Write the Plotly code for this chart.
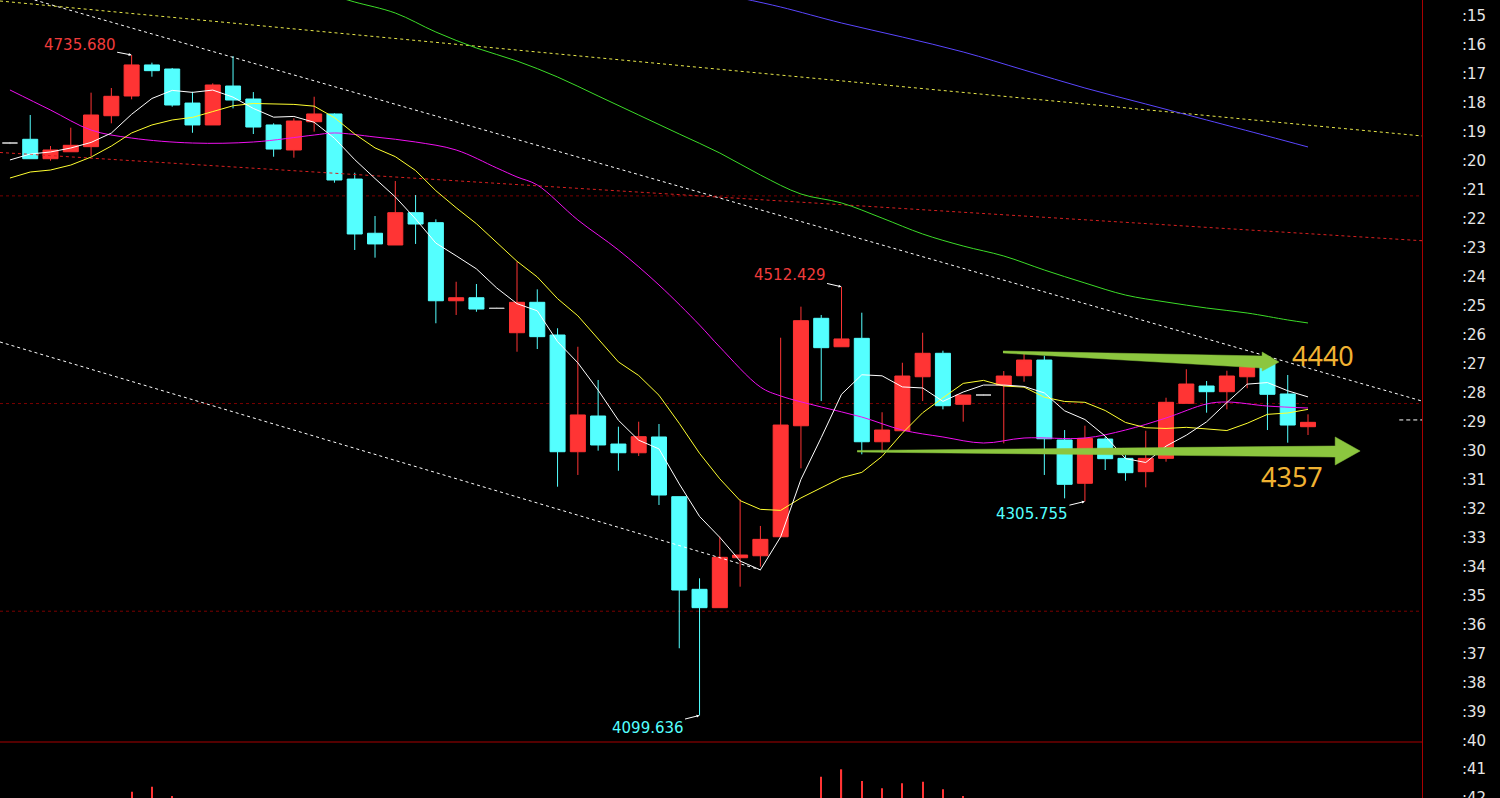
import plotly.graph_objects as go

# ---------------- data ----------------
idx = list(range(65))

opens = [4650.9, 4654.5, 4635.8, 4642.5, 4647.4, 4677.2, 4696.2, 4726.1, 4722.2, 4689.4,
         4668.3, 4705.8, 4693.3, 4668.3, 4644.2, 4671.4, 4678.9, 4616.2, 4564.0, 4552.7,
         4583.8, 4574.2, 4499.0, 4501.9, 4491.7, 4468.2, 4497.5, 4466.0, 4353.6, 4388.0,
         4361.0, 4352.6, 4367.8, 4310.3, 4221.1, 4203.4, 4251.5, 4253.4, 4271.7, 4378.6,
         4482.1, 4454.7, 4462.8, 4363.2, 4373.8, 4425.8, 4448.4, 4399.3, 4408.2, 4417.9,
         4426.8, 4441.9, 4364.9, 4323.2, 4365.8, 4347.2, 4334.4, 4347.2, 4400.2, 4416.9,
         4411.4, 4425.8, 4438.8, 4409.2, 4377.7]
highs = [4651.9, 4677.9, 4648.0, 4665.7, 4699.4, 4703.9, 4735.68, 4728.3, 4723.2, 4700.3,
         4708.4, 4734.7, 4700.0, 4669.9, 4674.7, 4695.5, 4679.5, 4622.3, 4580.6, 4614.3,
         4600.8, 4577.4, 4517.3, 4515.1, 4492.2, 4536.6, 4510.0, 4472.5, 4454.7, 4422.7,
         4377.7, 4382.5, 4380.3, 4310.3, 4231.7, 4271.7, 4307.8, 4282.1, 4463.4, 4493.3,
         4485.3, 4512.429, 4487.5, 4391.6, 4439.3, 4468.2, 4450.9, 4408.2, 4408.7, 4431.3,
         4448.4, 4446.1, 4374.5, 4378.7, 4368.1, 4350.4, 4373.8, 4405.6, 4433.0, 4421.7,
         4431.6, 4441.9, 4441.9, 4427.5, 4389.6]
lows = [4649.9, 4635.8, 4633.9, 4642.5, 4638.4, 4669.9, 4693.0, 4714.8, 4685.9, 4660.8,
        4668.3, 4684.3, 4659.6, 4637.7, 4636.8, 4661.8, 4612.7, 4547.9, 4540.5, 4552.7,
        4553.7, 4477.3, 4485.3, 4488.4, 4491.2, 4449.9, 4452.5, 4319.9, 4331.2, 4354.6,
        4335.3, 4349.5, 4302.3, 4164.3, 4099.636, 4203.4, 4223.6, 4242.9, 4271.7, 4337.6,
        4402.4, 4454.7, 4351.1, 4352.6, 4373.8, 4402.4, 4394.4, 4382.5, 4407.7, 4361.7,
        4421.0, 4331.2, 4308.7, 4305.755, 4336.0, 4325.7, 4319.3, 4344.0, 4400.2, 4391.2,
        4394.4, 4414.7, 4374.5, 4362.3, 4369.7]
closes = [4650.9, 4635.8, 4644.2, 4648.7, 4677.9, 4695.9, 4726.1, 4720.6, 4687.5, 4668.3,
          4706.8, 4692.3, 4666.3, 4645.1, 4672.1, 4678.9, 4615.3, 4563.3, 4553.7, 4583.8,
          4572.9, 4499.0, 4501.9, 4491.0, 4491.7, 4497.5, 4464.4, 4353.6, 4389.0, 4360.1,
          4352.6, 4368.1, 4311.9, 4220.4, 4203.4, 4251.9, 4254.1, 4269.2, 4379.3, 4479.8,
          4453.8, 4462.2, 4363.2, 4374.5, 4426.5, 4448.4, 4397.9, 4408.2, 4408.2, 4426.5,
          4441.9, 4366.1, 4322.2, 4366.5, 4346.9, 4333.4, 4347.2, 4401.2, 4418.8, 4411.4,
          4426.5, 4435.5, 4408.9, 4379.3, 4381.9]
flat_idx = [0, 24, 48]          # grey doji candles

ma5 = [4634.6, 4640.3, 4642.3, 4646.1, 4651.5, 4660.5, 4678.6, 4693.8, 4701.6, 4699.7,
       4701.9, 4695.1, 4684.2, 4675.8, 4676.5, 4670.9, 4655.5, 4634.9, 4616.7, 4599.0,
       4577.8, 4554.5, 4542.3, 4529.7, 4511.3, 4496.2, 4489.3, 4459.6, 4439.2, 4412.9,
       4383.9, 4364.7, 4356.3, 4322.6, 4291.3, 4271.1, 4248.3, 4239.8, 4271.6, 4326.9,
       4367.2, 4408.9, 4427.7, 4426.7, 4416.0, 4415.0, 4402.1, 4411.1, 4417.8, 4417.8,
       4416.5, 4410.2, 4393.0, 4384.6, 4368.7, 4347.0, 4343.2, 4359.0, 4369.5, 4382.4,
       4401.0, 4418.7, 4420.2, 4412.3, 4406.4]
ma10 = [4617.2, 4623.0, 4624.9, 4629.7, 4637.4, 4648.0, 4660.6, 4668.3, 4673.1, 4675.6,
        4681.2, 4686.8, 4689.0, 4688.7, 4688.1, 4686.4, 4675.3, 4659.6, 4646.2, 4637.8,
        4624.4, 4605.0, 4588.6, 4573.2, 4555.2, 4537.0, 4521.9, 4501.0, 4484.5, 4462.1,
        4440.1, 4427.0, 4408.0, 4380.9, 4352.1, 4327.5, 4306.5, 4298.1, 4297.1, 4309.1,
        4319.2, 4328.6, 4333.7, 4349.1, 4371.5, 4391.1, 4405.5, 4419.4, 4422.3, 4416.9,
        4415.8, 4406.1, 4402.0, 4401.2, 4393.3, 4381.8, 4376.7, 4376.0, 4377.1, 4375.6,
        4374.0, 4381.0, 4389.6, 4390.9, 4394.4]
mam_idx = [0, 2, 4, 6, 9, 12, 15, 16, 18, 20, 22, 24, 25, 26, 28, 30, 32, 34, 35, 37,
           38, 40, 42, 44, 46, 48, 50, 53, 55, 57, 59, 60, 62, 64]
mam = [4702.0, 4682.7, 4663.4, 4655.7, 4650.9, 4651.9, 4658.6, 4660.6, 4656.7, 4651.9,
       4644.2, 4626.9, 4618.2, 4610.5, 4576.8, 4547.9, 4514.2, 4475.6, 4454.4, 4415.9,
       4407.3, 4396.7, 4387.0, 4374.5, 4367.8, 4362.0, 4366.8, 4366.8, 4374.5, 4386.1,
       4399.6, 4401.5, 4397.6, 4395.7]
mag_idx = [16, 17, 19, 21, 23, 25, 27, 29, 31, 33, 35, 37, 39, 41, 43, 45, 47, 49, 51,
           53, 55, 57, 59, 61, 63, 64]
mag = [4792.5, 4786.7, 4776.1, 4757.8, 4742.4, 4729.9, 4714.5, 4696.2, 4677.9, 4659.6,
       4641.3, 4620.1, 4601.8, 4593.2, 4578.6, 4563.3, 4551.7, 4542.1, 4528.6, 4516.1,
       4504.5, 4497.8, 4492.0, 4487.2, 4480.5, 4477.6]
mab_idx = [36, 38, 41, 44, 47, 50, 53, 56, 59, 62, 64]
mab = [4790.6, 4781.9, 4766.5, 4753.0, 4738.6, 4721.2, 4703.9, 4688.5, 4673.1, 4657.6, 4647.1]

trend_x = [-0.49, 69.62]
trend_white_y = [4798.3, 4402.4]
trend_yellow_y = [4787.7, 4657.7]
trend_red_y = [4641.8, 4556.8]
trend_low_x = [-0.49, 37]
trend_low_y = [4459.3, 4239.8]
grid_levels = [4200, 4400, 4600]
last_mark_x = [68.5, 69.62]
last_mark_price = 4384.2

axis_labels = [":15", ":16", ":17", ":18", ":19", ":20", ":21", ":22", ":23", ":24",
               ":25", ":26", ":27", ":28", ":29", ":30", ":31", ":32", ":33", ":34",
               ":35", ":36", ":37", ":38", ":39", ":40", ":41", ":42"]
axis_vals = [4773.9, 4746.0, 4718.0, 4690.1, 4662.2, 4634.3, 4606.3, 4578.4, 4550.5, 4522.5,
             4494.6, 4466.7, 4438.8, 4410.8, 4382.9, 4355.0, 4327.0, 4299.1, 4271.2, 4243.3,
             4215.3, 4187.4, 4159.5, 4131.5, 4103.6, 4075.7, 4047.8, 4020.6]

vol_idx = [6, 7, 8, 40, 41, 42, 43, 44, 45, 46, 47]
vol = [6.3, 11.3, 2.0, 21.3, 28.7, 17.0, 9.7, 14.7, 16.3, 8.7, 2.0]

ext_text = ["4735.680", "4512.429", "4305.755", "4099.636"]
ext_idx = [6, 41, 53, 34]
ext_price = [4735.68, 4512.429, 4305.755, 4099.636]

target_text = ["4440", "4357"]
target_idx = [64.75, 63.2]
target_price = [4446.7, 4330.2]

arrow_hi_x = [48.96, 61.74, 61.74, 62.57, 61.74, 61.74, 48.96]
arrow_hi_y = [4450.6, 4445.8, 4449.6, 4440.0, 4431.3, 4434.2, 4448.7]
arrow_lo_x = [41.77, 65.34, 65.34, 66.57, 65.34, 65.34, 41.77]
arrow_lo_y = [4354.8, 4359.1, 4367.8, 4354.3, 4340.8, 4348.5, 4353.3]

# ---------------- styles ----------------
RED = "#ff3434"
CYAN = "#54ffff"
GREY = "#c0c0c0"
AXRED = "#a80000"
ARROWG = "#8cc63f"
LABEL_FONT = "DejaVu Sans"

fig = go.Figure()

main_i = [i for i in idx if i not in flat_idx]
fig.add_trace(go.Candlestick(
    x=main_i,
    open=[opens[i] for i in main_i], high=[highs[i] for i in main_i],
    low=[lows[i] for i in main_i], close=[closes[i] for i in main_i],
    increasing=dict(line=dict(color=RED, width=1), fillcolor=RED),
    decreasing=dict(line=dict(color=CYAN, width=1), fillcolor=CYAN),
    whiskerwidth=0, hoverinfo="skip"))
fig.add_trace(go.Candlestick(
    x=flat_idx,
    open=[opens[i] for i in flat_idx], high=[highs[i] for i in flat_idx],
    low=[lows[i] for i in flat_idx], close=[closes[i] for i in flat_idx],
    increasing=dict(line=dict(color=GREY, width=1), fillcolor=GREY),
    decreasing=dict(line=dict(color=GREY, width=1), fillcolor=GREY),
    whiskerwidth=0, hoverinfo="skip"))

# trend / reference lines
fig.add_trace(go.Scatter(x=trend_x, y=trend_white_y, mode="lines",
                         line=dict(color="white", width=1, dash="dot"), hoverinfo="skip"))
fig.add_trace(go.Scatter(x=trend_x, y=trend_yellow_y, mode="lines",
                         line=dict(color="#e8e84a", width=1, dash="dot"), hoverinfo="skip"))
fig.add_trace(go.Scatter(x=trend_x, y=trend_red_y, mode="lines",
                         line=dict(color="#d82020", width=1, dash="3px,3px"), hoverinfo="skip"))
fig.add_trace(go.Scatter(x=trend_low_x, y=trend_low_y, mode="lines",
                         line=dict(color="white", width=1, dash="dot"), hoverinfo="skip"))
fig.add_trace(go.Scatter(x=last_mark_x, y=[last_mark_price, last_mark_price], mode="lines",
                         line=dict(color="white", width=1, dash="4px,3px"), hoverinfo="skip"))

# moving averages
fig.add_trace(go.Scatter(x=mab_idx, y=mab, mode="lines", line=dict(color="#5a46ff", width=1, shape="spline"), hoverinfo="skip"))
fig.add_trace(go.Scatter(x=mag_idx, y=mag, mode="lines", line=dict(color="#3cdc28", width=1, shape="spline"), hoverinfo="skip"))
fig.add_trace(go.Scatter(x=mam_idx, y=mam, mode="lines", line=dict(color="#f010f0", width=1, shape="spline"), hoverinfo="skip"))
fig.add_trace(go.Scatter(x=idx, y=ma10, mode="lines", line=dict(color="#ffff30", width=1), hoverinfo="skip"))
fig.add_trace(go.Scatter(x=idx, y=ma5, mode="lines", line=dict(color="#ffffff", width=1), hoverinfo="skip"))

# green arrows
for ax_, ay_ in ((arrow_hi_x, arrow_hi_y), (arrow_lo_x, arrow_lo_y)):
    fig.add_trace(go.Scatter(x=ax_, y=ay_, mode="lines", fill="toself", fillcolor=ARROWG,
                             line=dict(color=ARROWG, width=0.5), hoverinfo="skip"))

# volume panel
fig.add_trace(go.Bar(x=vol_idx, y=vol, yaxis="y2", marker=dict(color=RED, line=dict(width=0)),
                     width=0.06, hoverinfo="skip"))

# grid lines + panel separators
for g in grid_levels:
    fig.add_shape(type="line", xref="paper", x0=0, x1=1, yref="y", y0=g, y1=g,
                  line=dict(color="#7a0000", width=1, dash="dot"), layer="below")
vol_frac = 56 / 798
fig.add_shape(type="line", xref="paper", x0=0, x1=1, yref="paper", y0=vol_frac, y1=vol_frac,
              line=dict(color=AXRED, width=1))
fig.add_shape(type="line", xref="paper", x0=0, x1=1, yref="paper", y0=6 / 798, y1=6 / 798,
              line=dict(color="#7a0000", width=1, dash="dot"), layer="below")

# extreme labels
ext_colors = ["#f03c3c", "#f03c3c", CYAN, CYAN]
ext_off = [(-52, -10), (-52, -12), (-53, 13), (-52, 13)]
for t, i, p, c, (ox, oy) in zip(ext_text, ext_idx, ext_price, ext_colors, ext_off):
    fig.add_annotation(x=i, y=p, text=t, showarrow=True, ax=ox, ay=oy,
                       arrowcolor="white", arrowwidth=1, arrowhead=2, arrowsize=0.6, standoff=0,
                       font=dict(family=LABEL_FONT, size=15, color=c))

for t, i, p in zip(target_text, target_idx, target_price):
    fig.add_annotation(x=i, y=p, text=t, showarrow=False,
                       font=dict(family="Noto Sans", size=27, color="#f0b232"))

fig.update_layout(
    width=1500, height=798,
    margin=dict(l=0, r=78, t=0, b=0, autoexpand=False),
    paper_bgcolor="black", plot_bgcolor="black",
    showlegend=False,
    boxgap=0.26, boxgroupgap=0,
    xaxis=dict(range=[-0.49, 69.62], visible=False, rangeslider=dict(visible=False),
               fixedrange=True, automargin=False),
    yaxis=dict(range=[4020.1, 4788.65], side="right", tickmode="array",
               tickvals=axis_vals, ticktext=axis_labels, showgrid=False, zeroline=False,
               showline=True, linecolor=AXRED, linewidth=1, ticks="",
               ticklabelstandoff=36, ticklabeloverflow="allow", automargin=False,
               tickfont=dict(family=LABEL_FONT, size=15, color="#e6e6e6"), fixedrange=True),
    yaxis2=dict(domain=[0, vol_frac], range=[0, 56], visible=False, fixedrange=True),
)

fig.write_html("out.html", config={"displayModeBar": False},
               post_script="document.body.style.margin='0';document.body.style.overflow='hidden';")
